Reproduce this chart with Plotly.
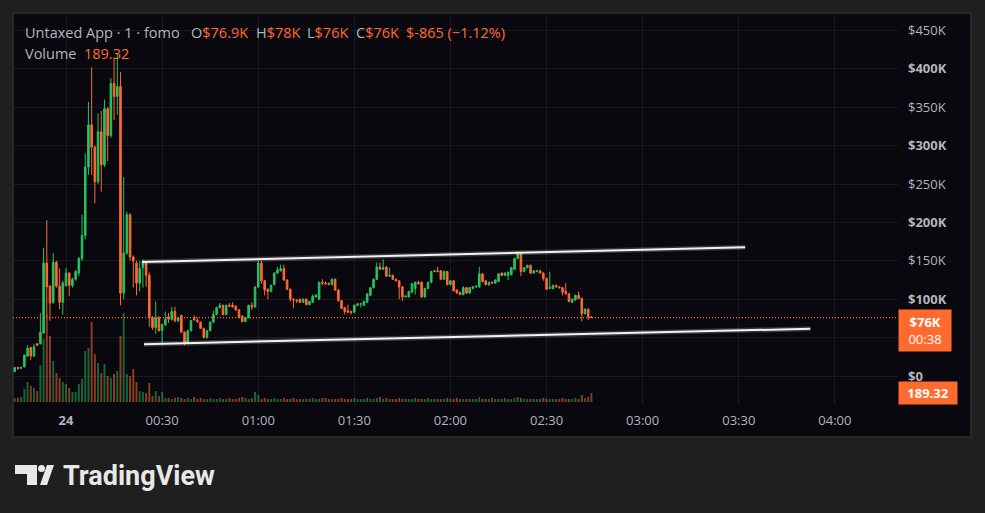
import plotly.graph_objects as go
import pandas as pd

# ---------------- data (prices in $K, 1-minute candles) ----------------
start_time = "2024-12-23 23:44"

opens = [6, 11, 10, 12, 26, 37, 26, 42, 42, 56, 147, 117, 96, 148, 117, 96, 118, 134, 118, 126,
         134, 153, 183, 272, 327, 298, 253, 318, 275, 348, 313, 381, 364, 377, 108, 160, 210, 155, 147, 121,
         141, 147, 131, 76, 63, 76, 59, 67, 77, 74, 84, 72, 79, 57, 43, 59, 76, 73, 70, 62,
         50, 59, 70, 80, 89, 92, 80, 92, 92, 91, 86, 78, 71, 76, 92, 90, 116, 147, 124, 113,
         110, 119, 134, 137, 140, 125, 113, 100, 99, 100, 96, 100, 93, 96, 103, 100, 122, 121, 120.5, 119,
         126, 112, 98, 89, 85, 84, 83, 92, 93.5, 92, 96, 105, 115, 126, 142, 139, 142, 130, 131, 126,
         124, 116, 103, 103, 109, 114, 122, 122, 103, 114, 122, 136, 137, 137, 126, 136, 119, 124, 112, 109,
         106, 115, 108, 114, 116, 116, 133, 124, 119, 122, 121, 123, 134, 131, 131, 132, 139, 153, 160, 136,
         141, 144, 134, 136, 137, 134, 127, 114, 114, 118, 116, 115, 110, 107, 96, 99, 105, 101, 81, 87,
         76.9]
highs = [12, 12, 12, 28, 40, 38, 42, 43, 82, 167, 203, 118, 160, 150, 140, 124, 141, 135, 128, 138,
         155, 210, 290, 357, 402, 300, 342, 345, 360, 350, 388, 414, 420, 396, 259, 214, 212, 157, 150, 150,
         152, 150, 135, 78, 97, 78, 68, 84, 82, 90, 90, 77, 80, 58, 60, 73, 79, 76, 71, 63,
         60, 71, 85, 90, 95, 93, 93, 95, 96, 92, 87, 79, 77, 93, 96, 117, 152, 150, 125, 114,
         119, 135, 142, 145, 145, 126, 114, 101, 100, 101, 101, 101, 98, 106, 107, 123, 126, 123, 122, 127,
         127, 113, 99, 90, 93, 85, 93, 95, 95, 98, 108, 116, 127, 148, 148, 152, 143, 141, 132, 127,
         125, 117, 105, 111, 121, 123, 124, 123, 115, 123, 137, 138, 142, 138, 137, 137, 125, 125, 113, 110,
         117, 116, 116, 117, 118, 142, 134, 125, 123, 123, 126, 134, 135, 135, 136, 142, 154, 162, 161, 142,
         145, 145, 138, 138, 138, 135, 128, 136, 119, 119, 117, 116, 121, 108, 101, 106, 110, 102, 88, 88,
         78]
lows = [5, 8, 9, 11, 25, 21, 25, 39, 41, 55, 77, 72, 94, 115, 87, 80, 116, 104, 115, 124,
        130, 150, 178, 262, 262, 225, 250, 240, 272, 280, 310, 333, 340, 92, 100, 158, 150, 115, 105, 110,
        115, 116, 64, 60, 55, 58, 42, 65, 69, 72, 70, 70, 56, 40, 42, 58, 72, 69, 61, 49,
        49, 58, 69, 79, 88, 79, 79, 90, 89, 85, 75, 70, 70, 75, 86, 89, 115, 120, 105, 100,
        109, 118, 133, 136, 124, 112, 97, 88, 95, 95, 95, 92, 92, 95, 102, 99, 118, 119, 118, 118,
        111, 97, 87, 80, 82, 80, 82, 91, 89, 91, 95, 104, 114, 125, 138, 138, 129, 129, 125, 123,
        100, 98, 102, 102, 108, 106, 119, 102, 102, 113, 121, 135, 135, 125, 125, 118, 118, 110, 107, 105,
        105, 107, 107, 113, 115, 115, 122, 118, 117, 120, 120, 122, 130, 130, 125, 131, 138, 152, 130, 135,
        140, 133, 133, 135, 133, 124, 112, 113, 113, 115, 114, 105, 106, 96, 95, 98, 100, 71, 80, 73,
        76]
closes = [11, 10, 11, 27, 36, 26, 38, 40, 57, 147, 116, 95, 148, 117, 96, 121, 134, 118, 126, 136,
          153, 183, 272, 327, 298, 253, 318, 275, 348, 313, 381, 364, 377, 108, 160, 210, 155, 150, 121, 140,
          147, 131, 76, 63, 76, 59, 67, 74, 74, 84, 72, 76, 57, 43, 59, 72, 73, 71, 62, 50,
          59, 70, 80, 89, 92, 80, 92, 91, 90, 86, 76, 71, 76, 92, 90, 116, 147, 124, 112, 110,
          118, 134, 138, 140, 125, 113, 100, 99, 98, 96, 100, 93, 97, 104, 105, 122, 121, 120, 119.5, 126,
          112, 98, 88, 84, 83, 83, 92, 94, 94.2, 97, 107, 115, 126, 142, 139, 141, 130, 131, 126, 124,
          116, 103, 104, 110, 120, 122, 120, 103, 114, 122, 136, 137, 136, 126, 136, 119, 124, 111, 108, 106,
          115, 108, 115, 116, 117, 133, 123, 119, 122, 121, 125, 133, 131, 134, 135, 141, 153, 160, 136, 141,
          144, 134, 137, 137, 134, 127, 113, 115, 118, 116, 115, 109, 107, 97, 100, 105, 101, 81, 87, 76.9,
          76.035]
volumes = [84, 86, 105, 273, 420, 336, 294, 231, 777, 1323, 1831, 1386, 861, 609, 504, 420, 378, 294, 210, 212,
           378, 483, 1071, 1134, 1680, 1008, 819, 609, 798, 546, 504, 588, 651, 1386, 1869, 588, 546, 693, 420, 231,
           210, 189, 399, 126, 231, 126, 210, 84, 84, 63, 84, 105, 84, 63, 84, 63, 105, 63,
           84, 63, 63, 84, 63, 63, 84, 63, 63, 84, 63, 63, 84, 105, 84, 63, 84, 210,
           147, 63, 84, 63, 63, 84, 63, 63, 84, 63, 63, 84, 63, 63, 63,
           63, 63, 84, 63, 63, 84, 84, 63, 63, 63, 63, 84, 63, 63, 63,
           84, 63, 63, 63, 84, 63, 63, 84, 105, 63, 84, 63, 63, 63, 84,
           63, 63, 63, 63, 84, 63, 63, 63, 84, 63, 63, 63, 63, 63, 84,
           63, 63, 84, 63, 63, 63, 63, 63, 63, 105, 63, 63, 63, 84, 63,
           63, 63, 84, 63, 63, 84, 105, 84, 63, 63, 63, 63, 63, 63, 84,
           63, 63, 63, 63, 63, 84, 63, 63, 63, 84, 63, 147, 84, 105, 189.32]

price_ticks = [0, 50, 100, 150, 200, 250, 300, 350, 400, 450]
price_tick_labels = ["<b>$0</b>", "", "<b>$100K</b>", "$150K", "<b>$200K</b>", "$250K",
                     "<b>$300K</b>", "$350K", "<b>$400K</b>", "$450K"]
time_ticks = ["2024-12-24 00:00", "2024-12-24 00:30", "2024-12-24 01:00", "2024-12-24 01:30",
              "2024-12-24 02:00", "2024-12-24 02:30", "2024-12-24 03:00", "2024-12-24 03:30",
              "2024-12-24 04:00"]
time_tick_labels = ["<b>24</b>", "00:30", "01:00", "01:30", "02:00", "02:30", "03:00", "03:30", "04:00"]

upper_trend_times = ["2024-12-24 00:23:40", "2024-12-24 03:32:00"]
upper_trend_prices = [148.5, 167.5]
lower_trend_times = ["2024-12-24 00:24:20", "2024-12-24 03:52:20"]
lower_trend_prices = [41.5, 61.5]

symbol_title = "Untaxed App · 1 · fomo"
countdown = "00:38"
x_window = ["2024-12-23 23:43:27", "2024-12-24 04:19:42"]
price_window = [-37.76, 472.66]
volume_window = [-63, 8169]

# ---------------- styling ----------------
UP = "#26c461"
DOWN = "#ff6a2e"
UP_VOL = "rgba(38,196,97,0.5)"
DOWN_VOL = "rgba(255,106,46,0.55)"
GRID = "#1b1a23"
PANEL = "#09080f"
OUTER = "#1f1f1f"
TXT = "#b2b5be"
FONT = "Open Sans, Roboto, Liberation Sans, sans-serif"

W, H = 985, 513
L, R, T, B = 13, 87, 13, 108
PW, PH = W - L - R, H - T - B


def px(x):
    return (x - L) / PW


def py(y):
    return (H - B - y) / PH


times = pd.date_range(start_time, periods=len(closes), freq="1min")
vol_colors = [UP_VOL if c >= o else DOWN_VOL for o, c in zip(opens, closes)]

fig = go.Figure()
fig.add_trace(go.Bar(x=times, y=volumes, marker_color=vol_colors, marker_line_width=0,
                     width=0.6 * 60000, yaxis="y2", hoverinfo="skip"))
fig.add_trace(go.Candlestick(
    x=times, open=opens, high=highs, low=lows, close=closes,
    increasing=dict(line=dict(color=UP, width=1), fillcolor=UP),
    decreasing=dict(line=dict(color=DOWN, width=1), fillcolor=DOWN),
    whiskerwidth=0, yaxis="y"))
for tx, ty in [(upper_trend_times, upper_trend_prices), (lower_trend_times, lower_trend_prices)]:
    fig.add_trace(go.Scatter(x=tx, y=ty, mode="lines", line=dict(color="rgba(255,255,255,0.18)", width=5),
                             hoverinfo="skip"))
    fig.add_trace(go.Scatter(x=tx, y=ty, mode="lines", line=dict(color="#f2f2f2", width=2),
                             hoverinfo="skip"))

last_close = closes[-1]
prev_close = closes[-2]
change = (last_close - prev_close) * 1000
pct = (last_close - prev_close) / prev_close * 100

shapes = [
    dict(type="rect", xref="paper", yref="paper", x0=px(13), x1=px(971), y0=py(437), y1=py(13),
         fillcolor=PANEL, line=dict(color="#2e2e2e", width=1.5), layer="below"),
    dict(type="line", xref="paper", yref="y", x0=0, x1=1, y0=last_close, y1=last_close,
         line=dict(color=DOWN, width=1.3, dash="1px,2px")),
    # TradingView logo
    dict(type="path", xref="paper", yref="paper", fillcolor="#e8e8e8", line=dict(width=0),
         path=f"M{px(15)},{py(465)} L{px(37)},{py(465)} L{px(37)},{py(485)} L{px(27)},{py(485)} "
              f"L{px(27)},{py(474)} L{px(15)},{py(474)} Z"),
    dict(type="circle", xref="paper", yref="paper", fillcolor="#e8e8e8", line=dict(width=0),
         x0=px(38), x1=px(45), y0=py(472), y1=py(465)),
    dict(type="path", xref="paper", yref="paper", fillcolor="#e8e8e8", line=dict(width=0),
         path=f"M{px(40)},{py(485)} L{px(47)},{py(485)} L{px(54)},{py(465)} L{px(47)},{py(465)} Z"),
]


def ann(x, y, text, color=TXT, size=14.5, **kw):
    d = dict(xref="paper", yref="paper", x=px(x), y=py(y), text=text, showarrow=False,
             xanchor="left", yanchor="middle", font=dict(family=FONT, size=size, color=color))
    d.update(kw)
    return d


annotations = [
    ann(23, 33, symbol_title),
    ann(189, 33, f"O<span style='color:{DOWN}'>${opens[-1]:.1f}K</span>"),
    ann(254, 33, f"H<span style='color:{DOWN}'>${highs[-1]:.0f}K</span>"),
    ann(305, 33, f"L<span style='color:{DOWN}'>${lows[-1]:.0f}K</span>"),
    ann(354, 33, f"C<span style='color:{DOWN}'>${last_close:.0f}K</span>"),
    ann(404, 33, f"${change:.0f} ({pct:.2f}%)".replace("(-", "(−"), color=DOWN),
    ann(23, 53, "Volume"),
    ann(82, 53, f"{volumes[-1]:.2f}", color=DOWN),
    dict(xref="paper", yref="y", x=1, y=last_close, yshift=9, xanchor="left", yanchor="top",
         text=f"<b>${last_close:.0f}K</b><br>{countdown}", showarrow=False, align="center",
         width=46, borderpad=3, bgcolor=DOWN, font=dict(family=FONT, size=13, color="white")),
    dict(xref="paper", yref="y2", x=1, y=volumes[-1], xanchor="left", yanchor="middle",
         text=f"<b>{volumes[-1]:.2f}</b>", showarrow=False, align="center",
         width=54, borderpad=2, bgcolor=DOWN, font=dict(family=FONT, size=13, color="white")),
    ann(61, 476, "<b>TradingView</b>",
        font=dict(family="Roboto, sans-serif", size=27, color="#e8e8e8")),
]

fig.update_layout(
    width=W, height=H, margin=dict(l=L, r=R, t=T, b=B),
    paper_bgcolor=OUTER, plot_bgcolor=PANEL, showlegend=False,
    shapes=shapes, annotations=annotations,
    xaxis=dict(type="date", range=x_window, tickvals=time_ticks, ticktext=time_tick_labels,
               showgrid=True, gridcolor=GRID, gridwidth=1, zeroline=False, showline=False,
               ticks="", ticklabelstandoff=6, tickfont=dict(family=FONT, size=13, color=TXT),
               rangeslider=dict(visible=False), fixedrange=True),
    yaxis=dict(side="right", range=price_window, tickvals=price_ticks, ticktext=price_tick_labels,
               showgrid=True, gridcolor=GRID, zeroline=False, showline=False, ticks="",
               ticklabelstandoff=9, tickfont=dict(family=FONT, size=13, color=TXT), fixedrange=True),
    yaxis2=dict(overlaying="y", range=volume_window, visible=False, showgrid=False, fixedrange=True),
)

fig.write_html("out.html", config={"displayModeBar": False},
               post_script="document.body.style.margin='0';document.body.style.background='#1f1f1f';")
